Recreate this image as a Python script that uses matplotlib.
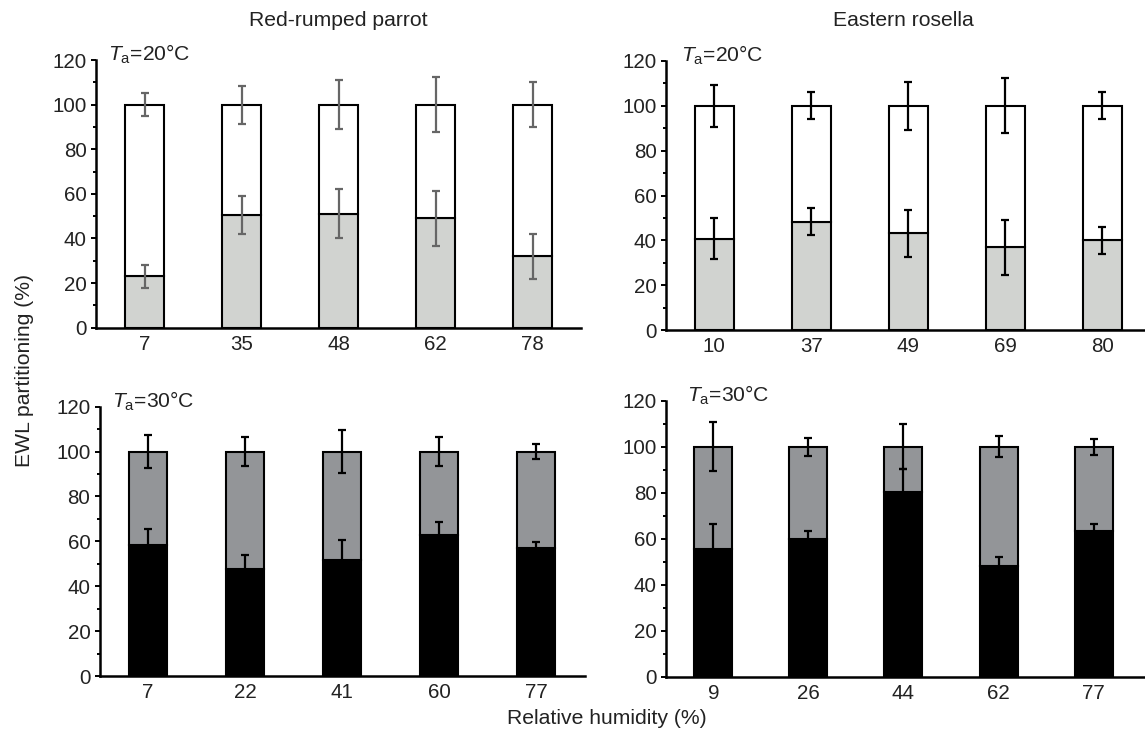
import matplotlib
matplotlib.use("Agg")
from matplotlib import pyplot as plt
from matplotlib.ticker import MultipleLocator

plt.rcParams['font.family'] = ['Liberation Sans', 'DejaVu Sans']
plt.rcParams['mathtext.fontset'] = 'custom'
plt.rcParams['mathtext.rm'] = 'Liberation Sans'
plt.rcParams['mathtext.it'] = 'Liberation Sans:italic'

# Red-rumped parrot, Ta = 20 C
rrp20_rh = ['7', '35', '48', '62', '78']
rrp20_lower = [23, 50.5, 51, 49, 32]
rrp20_upper = [77, 49.5, 49, 51, 68]
rrp20_lower_err = [5, 8.5, 11, 12.5, 10]
rrp20_upper_err = [5, 8.5, 11, 12.3, 10]

# Eastern rosella, Ta = 20 C
er20_rh = ['10', '37', '49', '69', '80']
er20_lower = [40.7, 48.3, 43.1, 36.9, 40]
er20_upper = [59.3, 51.7, 56.9, 63.1, 60]
er20_lower_err = [9.1, 6, 10.5, 12.3, 6]
er20_upper_err = [9.3, 6, 10.7, 12.3, 6]

# Red-rumped parrot, Ta = 30 C
rrp30_rh = ['7', '22', '41', '60', '77']
rrp30_lower = [58.5, 47.5, 51.5, 62.8, 56.9]
rrp30_upper = [41.5, 52.5, 48.5, 37.2, 43.1]
rrp30_lower_err = [6.9, 6.4, 9, 5.7, 2.8]
rrp30_upper_err = [7.3, 6.5, 9.5, 6.3, 3.4]

# Eastern rosella, Ta = 30 C
er30_rh = ['9', '26', '44', '62', '77']
er30_lower = [55.7, 59.9, 80.4, 48.1, 63.5]
er30_upper = [44.3, 40.1, 19.6, 51.9, 36.5]
er30_lower_err = [10.5, 3.4, 9.9, 4.1, 3]
er30_upper_err = [10.7, 3.9, 9.7, 4.5, 3.4]

W, H = 1145, 741
TXT = '#222222'


def panel(rect_px, rh, lower, upper, lower_err, upper_err,
          c_low, c_up, err_c, label, label_x, xmax=4.5):
    left, right, top, bottom = rect_px
    ax = fig.add_axes([left / W, 1 - bottom / H, (right - left) / W, (bottom - top) / H])
    x = list(range(len(rh)))
    ax.bar(x, lower, width=0.4, color=c_low, edgecolor='black', linewidth=1.5, zorder=2)
    ax.bar(x, upper, width=0.4, bottom=lower, color=c_up, edgecolor='black',
           linewidth=1.5, zorder=2)
    ax.errorbar(x, lower, yerr=lower_err, fmt='none', ecolor=err_c, elinewidth=1.6,
                capsize=3, capthick=1.6, zorder=3)
    tops = [a + b for a, b in zip(lower, upper)]
    ax.errorbar(x, tops, yerr=upper_err, fmt='none', ecolor=err_c, elinewidth=1.6,
                capsize=3, capthick=1.6, zorder=3)
    ax.set_xlim(-0.5, xmax)
    ax.set_ylim(0, 120)
    ax.set_xticks(x)
    ax.set_xticklabels(rh)
    ax.yaxis.set_major_locator(MultipleLocator(20))
    ax.yaxis.set_minor_locator(MultipleLocator(10))
    for s in ['top', 'right']:
        ax.spines[s].set_visible(False)
    for s in ['left', 'bottom']:
        ax.spines[s].set_linewidth(1.8)
    ax.tick_params(axis='x', length=0, pad=5, labelsize=14.8, colors=TXT)
    ax.tick_params(axis='y', which='major', length=3.5, width=1.4, pad=3,
                   labelsize=14.8, colors=TXT)
    ax.tick_params(axis='y', which='minor', length=2.5, width=1.4)
    ax.tick_params(axis='both', which='both', color='black')
    ax.text(label_x, 119.5, label, fontsize=15.2, va='baseline', ha='left',
            color=TXT, clip_on=False)
    return ax


fig = plt.figure(figsize=(W / 100, H / 100), dpi=100)

light = '#d1d3d0'
mid = '#939598'

panel((96, 581, 60, 327.7), rrp20_rh, rrp20_lower, rrp20_upper, rrp20_lower_err,
      rrp20_upper_err, light, 'white', '#666666', r'$\mathit{T}_{\mathrm{a}}$=20°C', -0.38)
panel((665.7, 1150.7, 61, 330), er20_rh, er20_lower, er20_upper, er20_lower_err,
      er20_upper_err, light, 'white', 'black', r'$\mathit{T}_{\mathrm{a}}$=20°C', -0.34)
panel((99.5, 584.5, 406.7, 676), rrp30_rh, rrp30_lower, rrp30_upper, rrp30_lower_err,
      rrp30_upper_err, 'black', mid, 'black', r'$\mathit{T}_{\mathrm{a}}$=30°C', -0.37)
panel((665.7, 1146, 400.7, 676.7), er30_rh, er30_lower, er30_upper, er30_lower_err,
      er30_upper_err, 'black', mid, 'black', r'$\mathit{T}_{\mathrm{a}}$=30°C', -0.28, xmax=4.55)

fig.text(338 / W, 1 - 20 / H, 'Red-rumped parrot', ha='center', va='center',
         fontsize=15.2, color=TXT)
fig.text(903 / W, 1 - 20 / H, 'Eastern rosella', ha='center', va='center',
         fontsize=15.2, color=TXT)
fig.text(25 / W, 1 - 370 / H, 'EWL partitioning (%)', ha='center', va='center',
         rotation=90, fontsize=15.2, color=TXT)
fig.text(607 / W, 1 - 718 / H, 'Relative humidity (%)', ha='center', va='center',
         fontsize=15.2, color=TXT)

plt.savefig('out.png', dpi=100)
